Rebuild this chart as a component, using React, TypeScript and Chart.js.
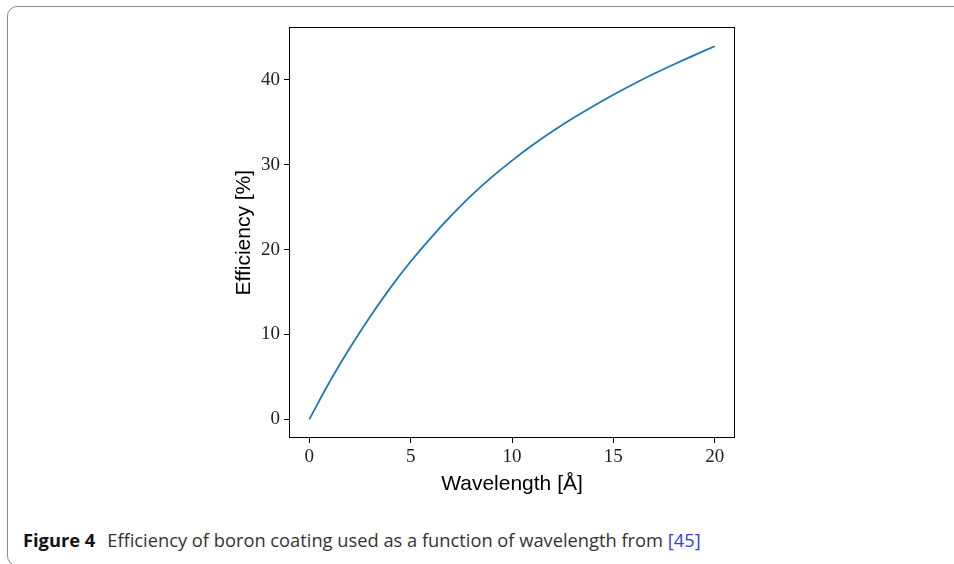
import React, { useEffect, useRef } from "react";
import { Chart, registerables } from "chart.js";

Chart.register(...registerables);

const wavelength = [0, 1, 2, 3, 4, 5, 6, 7, 8, 9, 10, 11, 12, 13, 14, 15, 16, 17, 18, 19, 20];
const efficiency = [0, 4.4, 8.4, 12.1, 15.5, 18.6, 21.4, 24.0, 26.4, 28.55, 30.5, 32.3, 33.95, 35.48, 36.91, 38.26, 39.53, 40.73, 41.86, 42.94, 43.98];
const xTicks = [0, 5, 10, 15, 20];
const yTicks = [0, 10, 20, 30, 40];
const xTitle = "Wavelength [Å]";
const yTitle = "Efficiency [%]";

const boxPlugin = {
  id: "boxFrame",
  afterDraw(chart: any) {
    const { ctx, chartArea } = chart;
    const l = Math.round(chartArea.left) + 0.5;
    const t = Math.round(chartArea.top) + 0.5;
    const r = Math.round(chartArea.right) - 0.5;
    const b = Math.round(chartArea.bottom) - 0.5;
    ctx.save();
    ctx.strokeStyle = "#000";
    ctx.lineWidth = 1;
    ctx.strokeRect(l, t, r - l, b - t);
    ctx.restore();
  },
};

const tickFont = { family: "'Liberation Serif', 'DejaVu Serif', serif", size: 19 };
const titleFont = { family: "'Liberation Sans', Arial, sans-serif", size: 21 };

export default function App() {
  const canvasRef = useRef<HTMLCanvasElement | null>(null);

  useEffect(() => {
    if (!canvasRef.current) return;
    const chart = new Chart(canvasRef.current, {
      type: "line",
      data: {
        datasets: [
          {
            data: wavelength.map((w, i) => ({ x: w, y: efficiency[i] })),
            borderColor: "#1f77b4",
            borderWidth: 1.8,
            pointRadius: 0,
            fill: false,
            tension: 0.4,
          },
        ],
      },
      options: {
        animation: false,
        responsive: true,
        maintainAspectRatio: false,
        layout: { padding: { left: 0, top: 7, right: 25, bottom: 0 } },
        plugins: { legend: { display: false }, tooltip: { enabled: false } },
        scales: {
          x: {
            type: "linear",
            min: -1,
            max: 21,
            afterBuildTicks: (scale: any) => {
              scale.ticks = xTicks.map((v) => ({ value: v }));
            },
            afterFit: (scale: any) => {
              scale.height = 62;
            },
            grid: { display: true, drawOnChartArea: false, drawTicks: true, tickLength: 5, tickColor: "#000", tickWidth: 1 },
            border: { display: false },
            ticks: { font: tickFont, color: "#222", padding: 3, maxRotation: 0 },
            title: { display: true, text: xTitle, font: titleFont, color: "#000", padding: { top: 0, bottom: 3.4 } },
          },
          y: {
            type: "linear",
            min: -2.2,
            max: 46.2,
            afterBuildTicks: (scale: any) => {
              scale.ticks = yTicks.map((v) => ({ value: v }));
            },
            afterFit: (scale: any) => {
              scale.width = 89;
            },
            grid: { display: true, drawOnChartArea: false, drawTicks: true, tickLength: 5, tickColor: "#000", tickWidth: 1 },
            border: { display: false },
            ticks: { font: tickFont, color: "#222", padding: 4 },
            title: { display: true, text: yTitle, font: titleFont, color: "#000", padding: { top: 31.4, bottom: 0 } },
          },
        },
      },
      plugins: [boxPlugin],
    } as any);
    return () => chart.destroy();
  }, []);

  return (
    <div style={{ position: "absolute", left: 0, top: 0, width: 954, height: 564, overflow: "hidden", background: "#fff" }}>
      <div
        style={{
          position: "absolute",
          left: 7,
          top: 6,
          width: 970,
          height: 560,
          border: "1px solid #8a8a8a",
          borderRadius: 10,
          boxSizing: "border-box",
        }}
      />
      <div style={{ position: "absolute", left: 200, top: 12, width: 560, height: 488 }}>
        <canvas ref={canvasRef} />
      </div>
      <div
        style={{
          position: "absolute",
          left: 23,
          top: 528,
          fontFamily: "'Open Sans', 'Noto Sans', sans-serif",
          fontSize: 18.3,
          lineHeight: "24px",
          color: "#333",
          whiteSpace: "nowrap",
        }}
      >
        <span style={{ fontWeight: 700, color: "#111", marginRight: 12 }}>Figure 4</span>
        <span>Efficiency of boron coating used as a function of wavelength from </span>
        <span style={{ color: "#3a3ad8" }}>[45]</span>
      </div>
    </div>
  );
}
